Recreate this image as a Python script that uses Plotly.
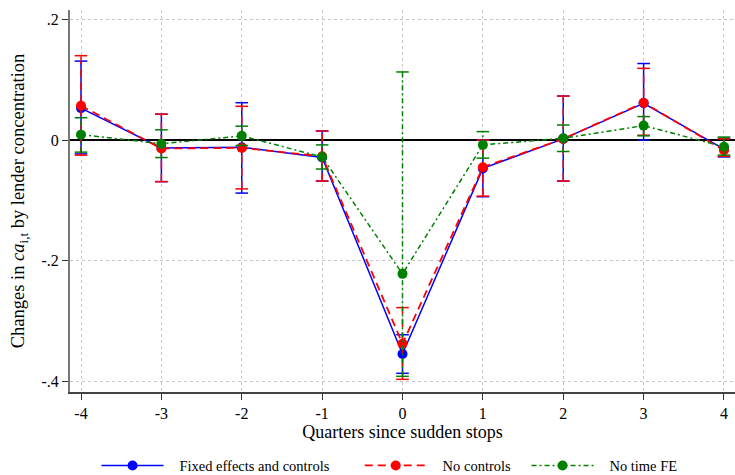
import plotly.graph_objects as go

quarters = [-4, -3, -2, -1, 0, 1, 2, 3, 4]

fe_ctrl = [0.053, -0.013, -0.012, -0.029, -0.355, -0.047, 0.002, 0.061, -0.015]
fe_ctrl_lo = [-0.023, -0.069, -0.088, -0.068, -0.387, -0.094, -0.068, 0.000, -0.028]
fe_ctrl_hi = [0.131, 0.043, 0.062, 0.015, -0.323, 0.000, 0.073, 0.127, 0.003]

no_ctrl = [0.057, -0.014, -0.013, -0.027, -0.338, -0.045, 0.002, 0.062, -0.017]
no_ctrl_lo = [-0.025, -0.069, -0.081, -0.068, -0.397, -0.093, -0.068, 0.008, -0.027]
no_ctrl_hi = [0.140, 0.043, 0.056, 0.015, -0.278, 0.000, 0.073, 0.119, 0.002]

no_tfe = [0.009, -0.006, 0.007, -0.028, -0.222, -0.008, 0.003, 0.024, -0.011]
no_tfe_lo = [-0.020, -0.029, -0.009, -0.048, -0.392, -0.030, -0.019, 0.007, -0.025]
no_tfe_hi = [0.037, 0.017, 0.023, -0.008, 0.113, 0.014, 0.025, 0.039, 0.005]

y_ticks = [0.2, 0, -0.2, -0.4]
y_ticklabels = [".2", "0", "-.2", "-.4"]

FONT = "Liberation Serif, Times New Roman, serif"
NB = "\u00a0"

series = [
    ("Fixed effects and controls", fe_ctrl, fe_ctrl_lo, fe_ctrl_hi, "#0000ff", "solid", 1.5, 10, 7),
    ("No controls", no_ctrl, no_ctrl_lo, no_ctrl_hi, "#ff0000", "8px,5px", 1.8, 10, 3),
    ("No time FE", no_tfe, no_tfe_lo, no_tfe_hi, "#008000", "5px,3px,2px,3px", 1.5, 10, 0),
]

fig = go.Figure()
for name, vals, lo, hi, color, dash, lw, msize, pad in series:
    cx, cy = [], []
    for xq, a, b in zip(quarters, lo, hi):
        cx += [xq, xq, None]
        cy += [a, b, None]
    fig.add_trace(go.Scatter(x=cx, y=cy, mode="lines", showlegend=False, hoverinfo="skip",
                             line=dict(color=color, width=1.5, dash=dash)))
    fig.add_trace(go.Scatter(x=quarters + quarters, y=lo + hi, mode="markers", showlegend=False,
                             hoverinfo="skip",
                             marker=dict(symbol="line-ew", size=9, line=dict(color=color, width=1.5))))
    fig.add_trace(go.Scatter(x=quarters, y=vals, mode="lines+markers",
                             name=NB * 3 + name + NB * pad,
                             line=dict(color=color, width=lw, dash=dash),
                             marker=dict(color=color, size=msize, symbol="circle")))

fig.update_layout(
    width=735, height=475,
    margin=dict(l=70, r=0, t=10, b=83, autoexpand=False),
    plot_bgcolor="white", paper_bgcolor="white",
    font=dict(family=FONT, size=16, color="black"),
    showlegend=True,
    legend=dict(orientation="h", xref="container", yref="container",
                x=0.53, y=0.02, xanchor="center", yanchor="middle",
                font=dict(size=14.5, family=FONT), itemwidth=62,
                bgcolor="rgba(0,0,0,0)", tracegroupgap=0),
    xaxis=dict(range=[-4.137, 4.137], tickvals=quarters, ticktext=[str(q) for q in quarters],
               showgrid=True, gridcolor="#c8c8c8", griddash="dot", gridwidth=1,
               zeroline=False, showline=True, linecolor="#444", linewidth=1.5,
               ticks="outside", ticklen=6, tickcolor="#333",
               title=dict(text="Quarters since sudden stops", standoff=4, font=dict(size=18)),
               tickfont=dict(size=16)),
    yaxis=dict(range=[-0.418, 0.2158], tickvals=y_ticks, ticktext=y_ticklabels,
               showgrid=True, gridcolor="#c8c8c8", griddash="dot", gridwidth=1,
               zeroline=True, zerolinecolor="black", zerolinewidth=1.5,
               showline=True, linecolor="#777", linewidth=2,
               ticks="outside", ticklen=6, tickcolor="#333",
               title=dict(text="Changes in <i>ca</i><sub>i,t</sub> by lender concentration",
                          standoff=12, font=dict(size=18.5)),
               tickfont=dict(size=16)),
)

fig.write_html("out.html")
